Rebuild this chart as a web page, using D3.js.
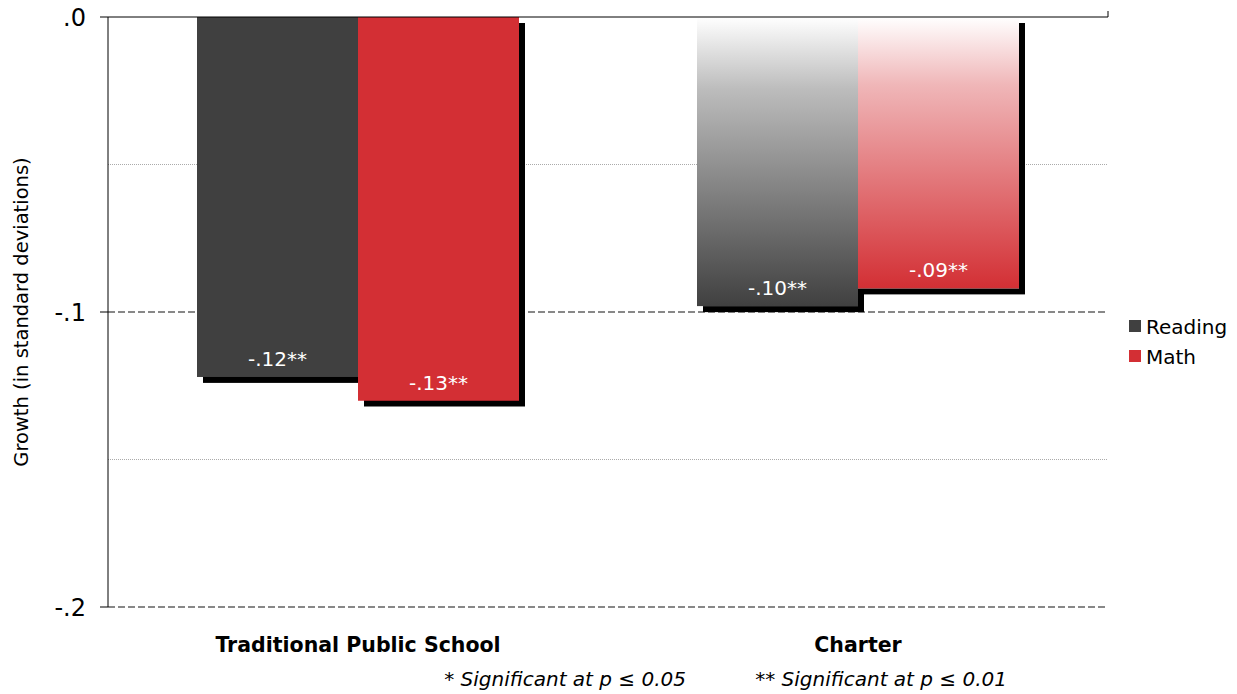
<!DOCTYPE html>
<html><head><meta charset="utf-8">
<script src="https://cdn.jsdelivr.net/npm/d3@7"></script>
<style>body{margin:0;background:#fff}text{font-family:"DejaVu Sans",Verdana,sans-serif}</style>
</head><body><svg id="c" width="1237" height="694"></svg>
<script>
const categories=["Traditional Public School","Charter"];
const seriesNames=["Reading","Math"];
const reading=[-0.122,-0.098];
const math=[-0.130,-0.092];
const labelsR=["-.12**","-.10**"];
const labelsM=["-.13**","-.09**"];
const yTicks=[0,-0.1,-0.2];
const yTickLabels=[".0","-.1","-.2"];
const colors=["#404040","#d32f34"];

const svg=d3.select("#c");
const L=108,R=1108,T=17,B=607;
const x=d3.scaleBand().domain(categories).range([L,R]);
const xs=d3.scaleBand().domain(seriesNames).range([0,322]);
const y=d3.scaleLinear().domain([0,-0.2]).range([T,B]);
const defs=svg.append("defs");
colors.forEach((c,i)=>{const g=defs.append("linearGradient").attr("id","g"+i).attr("x1",0).attr("x2",0).attr("y1",0).attr("y2",1);
g.append("stop").attr("offset",0).attr("stop-color",c).attr("stop-opacity",0);
g.append("stop").attr("offset",0.25).attr("stop-color",c).attr("stop-opacity",0.35);
g.append("stop").attr("offset",1).attr("stop-color",c).attr("stop-opacity",1);});
[-0.05,-0.15].forEach(v=>svg.append("line").attr("x1",L).attr("x2",R).attr("y1",y(v)).attr("y2",y(v)).attr("stroke","#aaa").attr("stroke-dasharray","1,1"));
[-0.1,-0.2].forEach(v=>svg.append("line").attr("x1",L).attr("x2",R).attr("y1",y(v)).attr("y2",y(v)).attr("stroke","#888").attr("stroke-width",2).attr("stroke-dasharray","7,3"));
const data=[];
categories.forEach((c,ci)=>{[reading,math].forEach((s,si)=>data.push({c,ci,si,v:s[ci],lab:[labelsR,labelsM][si][ci]}));});
data.forEach(d=>{const bx=x(d.c)+89+xs(seriesNames[d.si]);
svg.append("rect").attr("x",bx+6).attr("y",y(0)+6).attr("width",xs.bandwidth()).attr("height",y(d.v)-y(0)).attr("fill","#000");});
data.forEach(d=>{const bx=x(d.c)+89+xs(seriesNames[d.si]);
svg.append("rect").attr("x",bx).attr("y",y(0)).attr("width",xs.bandwidth()).attr("height",y(d.v)-y(0)).attr("fill",d.ci==0?colors[d.si]:"#fff");
svg.append("rect").attr("x",bx).attr("y",y(0)).attr("width",xs.bandwidth()).attr("height",y(d.v)-y(0)).attr("fill",d.ci==0?colors[d.si]:"url(#g"+d.si+")");
svg.append("text").attr("x",bx+xs.bandwidth()/2).attr("y",y(d.v)-11).attr("text-anchor","middle").attr("fill","#fff").attr("font-size",20).text(d.lab);});
svg.append("line").attr("x1",L).attr("x2",L).attr("y1",T).attr("y2",B).attr("stroke","#000");
svg.append("line").attr("x1",L-8).attr("x2",R).attr("y1",T).attr("y2",T).attr("stroke","#000");
svg.append("line").attr("x1",R).attr("x2",R).attr("y1",T-6).attr("y2",T).attr("stroke","#000");
[-0.1,-0.2].forEach(v=>svg.append("line").attr("x1",L-8).attr("x2",L).attr("y1",y(v)).attr("y2",y(v)).attr("stroke","#000"));
yTicks.forEach((v,i)=>svg.append("text").attr("x",86).attr("y",y(v)+9).attr("text-anchor","end").attr("font-size",24).text(yTickLabels[i]));
svg.append("text").attr("transform","translate(28,"+(T+B)/2+") rotate(-90)").attr("text-anchor","middle").attr("font-size",19.5).text("Growth (in standard deviations)");
categories.forEach(c=>svg.append("text").attr("x",x(c)+x.bandwidth()/2).attr("y",652).attr("text-anchor","middle").attr("font-size",20.5).attr("font-weight","bold").text(c));
svg.append("text").attr("x",686).attr("y",686).attr("text-anchor","end").attr("font-size",20).attr("font-style","italic").text("* Significant at p ≤ 0.05");
svg.append("text").attr("x",1007).attr("y",686).attr("text-anchor","end").attr("font-size",20).attr("font-style","italic").text("** Significant at p ≤ 0.01");
seriesNames.forEach((s,i)=>{svg.append("rect").attr("x",1129).attr("y",320+i*30).attr("width",12).attr("height",12).attr("fill",colors[i]);
svg.append("text").attr("x",1146).attr("y",334+i*30).attr("font-size",20).text(s);});
</script></body></html>
